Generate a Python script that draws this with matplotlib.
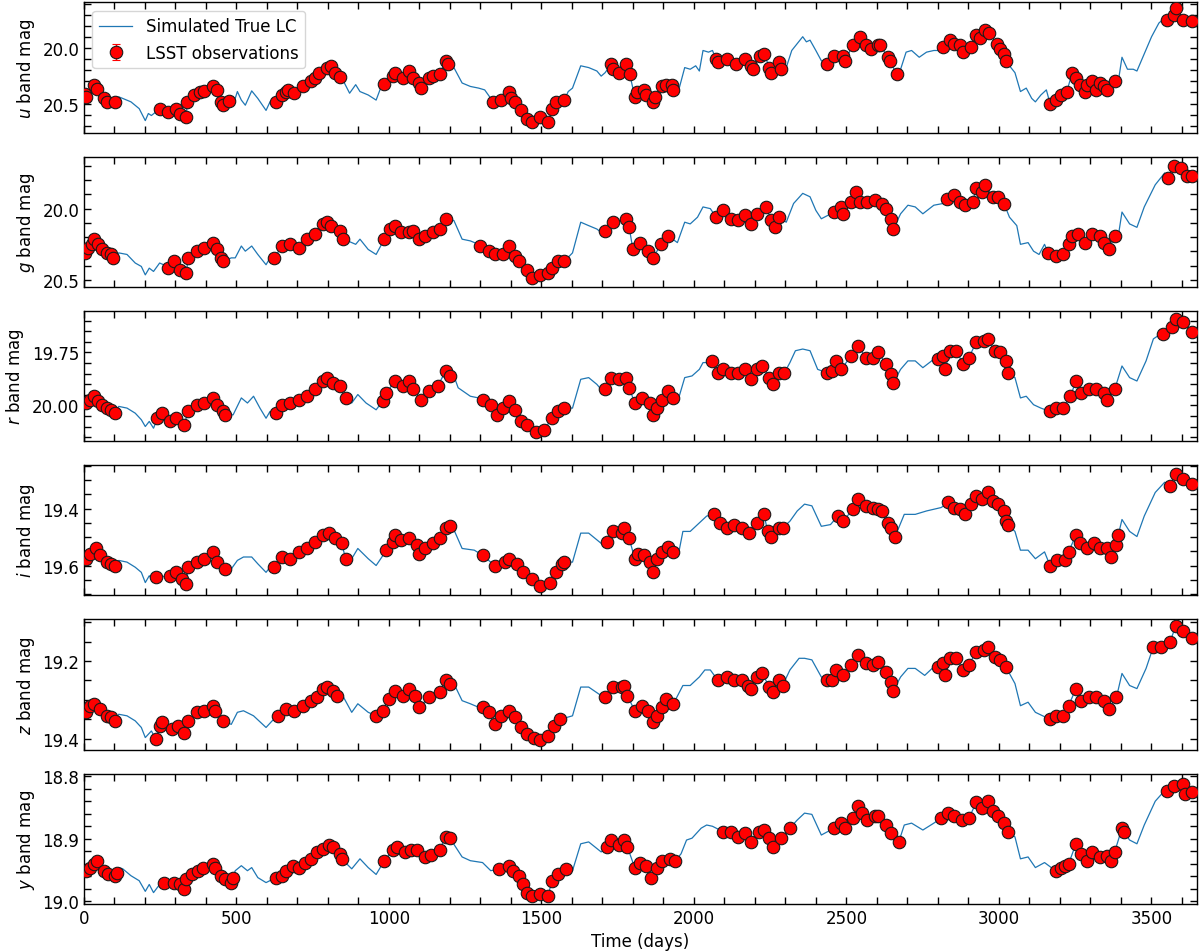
import matplotlib
matplotlib.use("Agg")
import matplotlib.pyplot as plt
import numpy as np
from matplotlib.ticker import MultipleLocator, AutoMinorLocator

# ---------------- data ----------------
bands = ["u", "g", "r", "i", "z", "y"]

# visible "true" light-curve knots between observing seasons (time, mag)
lc_u = [(114,20.44),(127,20.454),(154,20.485),(181,20.546),(201,20.654),(211,20.59),(221,20.608),(235,20.577),
        (489,20.515),(503,20.392),(516,20.469),(529,20.515),(550,20.386),(570,20.454),(597,20.562),(610,20.485),
        (851,20.299),(871,20.407),(891,20.330),(905,20.392),(932,20.423),(958,20.469),(979,20.315),
        (1213,20.176),(1240,20.315),(1267,20.346),(1294,20.361),(1314,20.377),(1334,20.454),
        (1588,20.392),(1602,20.361),(1629,20.160),(1655,20.176),(1682,20.207),(1696,20.253),(1709,20.222),
        (1952,20.361),(1970,20.176),(1988,20.191),(2006,20.160),(2018,20.207),(2030,20.022),(2048,20.037),(2061,20.022),
        (2303,20.176),(2321,20.022),(2339,19.960),(2357,19.898),(2369,19.944),(2381,19.929),(2400,20.022),(2418,20.114),
        (2678,20.191),(2696,20.037),(2714,20.022),(2739,20.083),(2763,20.037),(2787,20.022),(2811,20.022),
        (3035,20.160),(3053,20.222),(3071,20.392),(3090,20.361),(3108,20.454),(3120,20.485),(3138,20.423),(3156,20.377),
        (3392,20.299),(3404,20.083),(3422,20.191),(3441,20.191),(3453,20.207),(3477,20.052),(3501,19.898),(3525,19.775),
        (3544,19.728),(3650,19.75)]
obs_u = [(3,20.41),(7,20.438),(34,20.330),(44,20.367),(67,20.454),(74,20.485),(101,20.485),
         (248,20.546),(275,20.577),(302,20.552),(315,20.593),(335,20.623),(339,20.485),
         (362,20.423),(382,20.392),(395,20.386),(422,20.346),(436,20.377),(449,20.485),(456,20.515),(476,20.481),
         (630,20.485),(650,20.423),(664,20.392),(670,20.377),(690,20.407),(717,20.346),(744,20.299),(757,20.269),
         (771,20.222),(798,20.176),(811,20.160),(824,20.222),(838,20.262),
         (985,20.324),(1012,20.253),(1019,20.222),(1046,20.269),(1066,20.207),(1079,20.269),(1099,20.315),(1106,20.361),
         (1133,20.269),(1146,20.253),(1166,20.238),(1186,20.114),(1193,20.145),
         (1340,20.485),(1367,20.469),(1394,20.392),(1401,20.454),(1414,20.485),(1434,20.562),(1454,20.639),(1468,20.670),
         (1495,20.623),(1521,20.670),(1535,20.546),(1548,20.485),(1575,20.469),
         (1729,20.145),(1736,20.191),(1756,20.222),(1776,20.145),(1790,20.238),(1806,20.438),(1812,20.392),(1837,20.377),
         (1843,20.423),(1867,20.485),(1873,20.438),(1897,20.346),(1909,20.330),(1927,20.330),(1933,20.377),
         (2073,20.099),(2079,20.130),(2109,20.099),(2139,20.145),(2169,20.099),(2188,20.160),(2194,20.191),(2218,20.068),
         (2230,20.052),(2248,20.176),(2254,20.222),(2280,20.130),(2285,20.191),
         (2436,20.145),(2460,20.068),(2490,20.068),(2496,20.114),(2521,19.975),(2545,19.898),(2563,19.975),(2581,20.006),
         (2605,19.975),(2611,19.975),(2636,20.083),(2642,20.114),(2666,20.238),
         (2817,19.991),(2841,19.929),(2854,19.960),(2872,19.975),(2884,20.037),(2908,19.991),(2926,19.883),(2938,19.914),
         (2956,19.836),(2969,19.867),(2993,19.960),(3005,20.006),(3017,20.052),(3023,20.114),
         (3168,20.500),(3186,20.469),(3205,20.423),(3223,20.392),(3241,20.222),(3253,20.269),(3265,20.330),(3283,20.392),
         (3289,20.330),(3307,20.299),(3320,20.377),(3332,20.315),(3344,20.346),(3356,20.377),(3380,20.299),
         (3550,19.744),(3574,19.698),(3580,19.636),(3604,19.744),(3634,19.759)]

lc_g = [(114,20.310),(141,20.321),(168,20.381),(188,20.405),(201,20.464),(214,20.417),(228,20.440),(248,20.381),(261,20.393),
        (483,20.345),(496,20.345),(516,20.262),(529,20.298),(550,20.262),(570,20.321),(597,20.393),(610,20.345),
        (865,20.226),(891,20.250),(905,20.214),(932,20.286),(958,20.321),(979,20.238),
        (1213,20.083),(1240,20.214),(1267,20.226),(1294,20.250),
        (1602,20.310),(1629,20.095),(1655,20.119),(1682,20.143),(1696,20.167),
        (1946,20.238),(1970,20.095),(1988,20.107),(2012,20.060),(2030,19.988),(2054,20.000),
        (2303,20.095),(2327,19.964),(2357,19.893),(2381,19.917),(2400,20.012),(2418,20.071),
        (2678,20.036),(2702,19.976),(2726,19.988),(2751,20.036),(2787,19.976),(2817,19.964),
        (3035,20.060),(3059,20.119),(3071,20.250),(3096,20.238),(3114,20.298),(3132,20.321),(3150,20.250),
        (3392,20.190),(3404,20.024),(3429,20.107),(3453,20.131),(3477,19.988),(3513,19.833),(3544,19.750),(3650,19.78)]
obs_g = [(3,20.310),(13,20.274),(27,20.250),(34,20.214),(47,20.250),(60,20.286),(74,20.310),(87,20.321),(94,20.345),
         (275,20.417),(295,20.369),(315,20.429),(335,20.452),(342,20.345),(369,20.298),(395,20.274),(422,20.238),
         (436,20.286),(449,20.345),(456,20.369),
         (623,20.345),(650,20.262),(677,20.250),(704,20.274),(731,20.214),(757,20.179),(784,20.107),(798,20.095),
         (811,20.119),(838,20.155),(851,20.214),
         (985,20.214),(1005,20.143),(1019,20.119),(1039,20.167),(1066,20.167),(1079,20.155),(1099,20.214),(1119,20.190),
         (1146,20.167),(1166,20.143),(1186,20.071),
         (1300,20.262),(1327,20.298),(1347,20.321),(1374,20.321),(1394,20.262),(1414,20.333),(1428,20.369),(1454,20.429),
         (1468,20.488),(1495,20.464),(1521,20.452),(1535,20.417),(1555,20.369),(1575,20.369),
         (1709,20.155),(1736,20.095),(1776,20.071),(1788,20.131),(1800,20.286),(1824,20.238),(1849,20.298),(1867,20.345),
         (1891,20.250),(1915,20.190),
         (2073,20.060),(2097,20.012),(2121,20.071),(2145,20.083),(2169,20.048),(2188,20.107),(2206,20.036),(2236,19.988),
         (2254,20.083),(2266,20.131),(2278,20.060),
         (2460,20.024),(2484,19.988),(2490,20.036),(2515,19.952),(2533,19.881),(2545,19.952),(2569,19.952),(2593,19.940),
         (2617,19.964),(2630,20.000),(2648,20.071),(2654,20.143),
         (2829,19.929),(2854,19.905),(2872,19.952),(2890,19.976),(2914,19.952),(2926,19.857),(2944,19.881),(2956,19.833),
         (2981,19.917),(2999,19.917),(3017,19.964),
         (3162,20.310),(3186,20.333),(3211,20.321),(3229,20.250),(3241,20.190),(3259,20.179),(3283,20.238),(3307,20.179),
         (3332,20.190),(3344,20.238),(3362,20.286),(3380,20.190),
         (3556,19.786),(3574,19.702),(3598,19.714),(3616,19.774),(3634,19.774)]

lc_r = [(114,20.005),(141,20.013),(168,20.037),(188,20.068),(201,20.100),(214,20.076),(228,20.108),
        (489,20.045),(516,19.965),(536,19.989),(556,19.957),(577,20.013),(597,20.061),(610,20.029),
        (878,19.989),(898,19.949),(925,19.989),(958,20.021),
        (1213,19.861),(1227,19.917),(1267,19.957),(1294,19.965),
        (1602,20.013),(1629,19.877),(1655,19.869),(1682,19.901),(1696,19.925),
        (1952,19.957),(1970,19.869),(1994,19.861),(2018,19.830),(2030,19.798),(2054,19.798),
        (2315,19.798),(2333,19.742),(2357,19.734),(2381,19.742),(2406,19.830),
        (2678,19.830),(2702,19.790),(2726,19.790),(2751,19.822),(2787,19.782),
        (3053,19.869),(3071,19.965),(3090,19.957),(3114,19.997),(3138,20.013),
        (3404,19.814),(3429,19.869),(3453,19.885),(3483,19.790),(3507,19.686),(3532,19.662),(3650,19.66)]
obs_r = [(7,19.989),(20,19.973),(34,19.957),(47,19.981),(60,19.997),(74,20.013),(87,20.021),(101,20.037),
         (241,20.061),(255,20.037),(282,20.076),(302,20.061),(328,20.092),(342,20.029),(369,19.997),(395,19.989),
         (422,19.965),(436,19.997),(456,20.029),(462,20.045),
         (630,20.037),(650,19.997),(677,19.989),(704,19.973),(731,19.957),(757,19.925),(784,19.885),(798,19.869),
         (818,19.893),(838,19.909),(858,19.965),
         (979,19.981),(992,19.941),(1019,19.885),(1046,19.909),(1066,19.885),(1079,19.925),(1106,19.973),(1133,19.933),
         (1160,19.909),(1186,19.838),(1200,19.861),
         (1307,19.973),(1334,19.997),(1354,20.045),(1374,20.013),(1394,19.981),(1414,20.021),(1434,20.076),(1454,20.092),
         (1481,20.124),(1508,20.116),(1535,20.061),(1555,20.029),(1575,20.013),
         (1709,19.925),(1729,19.869),(1756,19.877),(1776,19.869),(1788,19.917),(1806,19.989),(1830,19.965),(1855,19.989),
         (1867,20.045),(1879,20.013),(1897,19.973),(1915,19.933),(1933,19.965),
         (2061,19.790),(2079,19.846),(2097,19.830),(2121,19.846),(2145,19.846),(2169,19.830),(2188,19.877),(2206,19.830),
         (2224,19.814),(2248,19.869),(2260,19.901),(2278,19.846),(2297,19.846),
         (2436,19.846),(2454,19.838),(2466,19.790),(2484,19.830),(2515,19.766),(2539,19.718),(2563,19.774),(2587,19.774),
         (2605,19.750),(2630,19.806),(2648,19.854),(2654,19.893),
         (2799,19.782),(2817,19.766),(2823,19.830),(2841,19.742),(2860,19.742),(2884,19.806),(2902,19.774),(2926,19.702),
         (2950,19.694),(2963,19.686),(2987,19.742),(3005,19.750),(3023,19.790),(3029,19.846),
         (3168,20.029),(3186,20.013),(3211,20.013),(3235,19.957),(3253,19.885),(3271,19.941),(3295,19.925),(3320,19.925),
         (3344,19.941),(3356,19.973),(3380,19.925),
         (3538,19.662),(3568,19.631),(3580,19.591),(3604,19.607),(3634,19.654)]

lc_i = [(114,19.582),(141,19.588),(168,19.606),(188,19.624),(201,19.660),(214,19.636),(228,19.654),
        (483,19.612),(503,19.582),(523,19.570),(550,19.570),(570,19.594),(597,19.624),(610,19.606),
        (878,19.576),(898,19.540),(932,19.576),(958,19.600),
        (1213,19.474),(1240,19.540),(1280,19.546),
        (1602,19.588),(1629,19.486),(1655,19.486),(1696,19.522),
        (1952,19.546),(1964,19.480),(1988,19.480),(2018,19.450),(2042,19.426),
        (2315,19.444),(2339,19.408),(2363,19.384),(2387,19.390),(2418,19.462),(2448,19.456),
        (2690,19.420),(2726,19.420),(2763,19.408),(2811,19.396),
        (3053,19.480),(3071,19.546),(3096,19.546),(3120,19.576),(3150,19.552),
        (3404,19.438),(3429,19.480),(3453,19.498),(3477,19.426),(3513,19.343),(3544,19.307),(3650,19.31)]
obs_i = [(7,19.576),(20,19.558),(40,19.540),(54,19.564),(74,19.588),(87,19.594),(101,19.600),
         (235,19.642),(282,19.636),(302,19.624),(322,19.648),(335,19.666),(342,19.606),(369,19.588),(395,19.576),
         (422,19.552),(436,19.588),(462,19.612),
         (623,19.606),(650,19.570),(677,19.576),(704,19.552),(731,19.540),(757,19.516),(784,19.492),(804,19.486),
         (824,19.504),(845,19.522),(858,19.576),
         (992,19.546),(1012,19.516),(1019,19.492),(1039,19.510),(1066,19.504),(1093,19.528),(1099,19.558),(1119,19.540),
         (1146,19.522),(1166,19.504),(1186,19.468),(1200,19.462),
         (1307,19.564),(1347,19.600),(1381,19.588),(1394,19.576),(1421,19.594),(1441,19.624),(1468,19.648),(1495,19.672),
         (1528,19.660),(1548,19.624),(1568,19.594),(1575,19.588),
         (1716,19.516),(1736,19.480),(1763,19.486),(1770,19.468),(1788,19.504),(1806,19.576),(1818,19.558),(1837,19.564),
         (1855,19.588),(1867,19.624),(1879,19.576),(1897,19.552),(1915,19.534),(1933,19.552),
         (2067,19.420),(2085,19.450),(2109,19.468),(2133,19.456),(2157,19.468),(2182,19.486),(2206,19.450),(2230,19.420),
         (2242,19.480),(2254,19.498),(2278,19.468),(2291,19.468),
         (2472,19.426),(2490,19.444),(2521,19.402),(2539,19.366),(2563,19.390),(2587,19.396),(2605,19.402),(2617,19.408),
         (2636,19.450),(2648,19.468),(2660,19.498),
         (2835,19.378),(2854,19.396),(2872,19.402),(2890,19.420),(2908,19.384),(2926,19.355),(2944,19.366),(2963,19.343),
         (2981,19.372),(2999,19.384),(3017,19.408),(3023,19.444),(3029,19.456),
         (3168,19.600),(3192,19.582),(3217,19.582),(3229,19.552),(3253,19.492),(3265,19.522),(3289,19.540),(3313,19.522),
         (3332,19.540),(3356,19.540),(3368,19.570),(3386,19.528),(3392,19.492),
         (3562,19.319),(3580,19.277),(3604,19.295),(3634,19.313)]

lc_z = [(114,19.337),(141,19.341),(168,19.354),(188,19.371),(201,19.397),(221,19.380),
        (483,19.363),(503,19.332),(523,19.328),(556,19.341),(597,19.371),(617,19.354),
        (851,19.293),(878,19.332),(898,19.310),(932,19.332),
        (1213,19.258),(1240,19.302),(1267,19.310),(1294,19.319),
        (1602,19.341),(1629,19.267),(1655,19.267),(1696,19.289),
        (1964,19.263),(1988,19.263),(2018,19.241),(2036,19.223),(2054,19.223),
        (2315,19.223),(2345,19.193),(2363,19.193),(2387,19.197),(2418,19.241),
        (2678,19.241),(2702,19.219),(2726,19.219),(2757,19.237),(2787,19.215),
        (3053,19.258),(3071,19.315),(3096,19.306),(3120,19.332),(3144,19.341),
        (3404,19.232),(3429,19.263),(3453,19.271),(3483,19.219),(3650,19.14)]
obs_z = [(7,19.332),(20,19.315),(34,19.310),(54,19.323),(74,19.341),(87,19.345),(101,19.354),
         (235,19.400),(248,19.367),(255,19.358),(288,19.376),(308,19.367),(328,19.384),(342,19.354),(369,19.332),
         (395,19.328),(422,19.315),(429,19.328),(456,19.354),
         (637,19.341),(664,19.323),(690,19.328),(717,19.315),(744,19.302),(764,19.293),(784,19.271),(798,19.267),
         (818,19.276),(831,19.289),
         (958,19.341),(979,19.328),(999,19.297),(1019,19.276),(1046,19.289),(1066,19.271),(1086,19.289),(1099,19.319),
         (1133,19.293),(1166,19.280),(1186,19.250),(1200,19.258),
         (1307,19.319),(1327,19.332),(1347,19.363),(1367,19.341),(1394,19.328),(1414,19.345),(1434,19.371),(1454,19.389),
         (1475,19.397),(1495,19.402),(1521,19.393),(1542,19.367),(1562,19.350),
         (1709,19.293),(1736,19.267),(1763,19.267),(1770,19.263),(1782,19.289),(1806,19.328),(1830,19.315),(1849,19.328),
         (1867,19.358),(1879,19.341),(1897,19.319),(1909,19.297),(1933,19.310),
         (2079,19.250),(2109,19.241),(2133,19.250),(2157,19.250),(2176,19.263),(2188,19.271),(2206,19.241),(2224,19.232),
         (2248,19.267),(2260,19.280),(2278,19.250),(2291,19.263),
         (2436,19.250),(2454,19.250),(2466,19.223),(2490,19.237),(2515,19.210),(2539,19.184),(2563,19.206),(2587,19.210),
         (2605,19.202),(2630,19.228),(2648,19.254),(2654,19.276),
         (2799,19.215),(2817,19.206),(2823,19.237),(2841,19.193),(2860,19.193),(2884,19.223),(2902,19.210),(2926,19.176),
         (2950,19.171),(2963,19.163),(2987,19.189),(3005,19.197),(3023,19.215),
         (3168,19.350),(3186,19.341),(3211,19.341),(3229,19.315),(3253,19.271),(3271,19.302),(3295,19.293),(3320,19.293),
         (3344,19.302),(3362,19.323),(3386,19.293),
         (3507,19.163),(3532,19.163),(3562,19.150),(3580,19.110),(3604,19.123),(3634,19.141)]

lc_y = [(114,18.946),(127,18.948),(154,18.959),(181,18.967),(201,18.984),(214,18.973),(228,18.986),(248,18.973),
        (496,18.951),(516,18.943),(536,18.951),(550,18.946),(570,18.962),(597,18.970),
        (878,18.948),(905,18.932),(932,18.946),(958,18.957),
        (1240,18.929),(1267,18.935),(1307,18.938),(1334,18.951),
        (1602,18.951),(1629,18.908),(1655,18.905),(1696,18.921),
        (1958,18.924),(1976,18.902),(1994,18.899),(2024,18.883),(2042,18.878),(2061,18.880),
        (2339,18.870),(2363,18.859),(2387,18.861),(2418,18.894),
        (2690,18.878),(2714,18.875),(2751,18.886),(2787,18.875),
        (3053,18.897),(3071,18.932),(3096,18.929),(3120,18.946),(3150,18.938),
        (3429,18.902),(3453,18.908),(3477,18.878),(3513,18.840),(3544,18.823),(3650,18.826)]
obs_y = [(7,18.951),(20,18.946),(34,18.940),(44,18.935),(67,18.951),(80,18.957),(101,18.959),(107,18.954),
         (261,18.970),(295,18.970),(315,18.973),(328,18.981),(335,18.965),(355,18.957),(375,18.951),(389,18.946),
         (422,18.940),(429,18.946),(449,18.959),(462,18.965),(483,18.970),(489,18.962),
         (630,18.962),(650,18.959),(664,18.951),(684,18.943),(704,18.946),(724,18.938),(744,18.932),(764,18.921),
         (784,18.916),(804,18.910),(818,18.913),(838,18.924),(845,18.932),
         (985,18.935),(1012,18.918),(1025,18.913),(1052,18.921),(1072,18.918),(1093,18.918),(1119,18.929),(1139,18.926),
         (1166,18.918),(1186,18.897),(1200,18.899),
         (1361,18.948),(1394,18.943),(1407,18.951),(1428,18.959),(1441,18.973),(1454,18.986),(1468,18.992),(1495,18.989),
         (1521,18.992),(1535,18.967),(1555,18.957),(1582,18.948),
         (1716,18.913),(1729,18.902),(1756,18.910),(1770,18.902),(1782,18.913),(1806,18.946),(1824,18.938),(1843,18.943),
         (1861,18.962),(1879,18.946),(1897,18.935),(1921,18.932),(1939,18.935),
         (2097,18.889),(2121,18.889),(2145,18.897),(2169,18.891),(2188,18.905),(2212,18.889),(2230,18.886),(2248,18.899),
         (2260,18.913),(2285,18.899),(2315,18.883),
         (2460,18.883),(2484,18.875),(2496,18.883),(2521,18.867),(2539,18.848),(2551,18.859),(2569,18.870),(2593,18.864),
         (2605,18.864),(2630,18.878),(2648,18.891),(2672,18.905),
         (2811,18.867),(2835,18.859),(2854,18.864),(2878,18.870),(2902,18.867),(2926,18.842),(2944,18.851),(2963,18.840),
         (2981,18.856),(2999,18.864),(3017,18.875),(3029,18.889),
         (3186,18.951),(3205,18.946),(3217,18.943),(3229,18.940),(3253,18.908),(3271,18.924),(3289,18.935),(3307,18.921),
         (3332,18.929),(3356,18.927),(3368,18.935),(3380,18.921),(3404,18.883),(3410,18.889),
         (3550,18.823),(3574,18.815),(3604,18.812),(3610,18.829),(3634,18.826)]

lc_data = {"u": lc_u, "g": lc_g, "r": lc_r, "i": lc_i, "z": lc_z, "y": lc_y}
obs_data = {"u": obs_u, "g": obs_g, "r": obs_r, "i": obs_i, "z": obs_z, "y": obs_y}
obs_err = {"u": 0.01, "g": 0.008, "r": 0.005, "i": 0.004, "z": 0.003, "y": 0.002}

# axis limits (bottom, top) -- magnitudes, inverted
ylims = {"u": (20.762, 19.589), "g": (20.548, 19.636), "r": (20.169, 19.554),
         "i": (19.705, 19.247), "z": (19.428, 19.093), "y": (19.004, 18.796)}
ymajor = {"u": 0.5, "g": 0.5, "r": 0.25, "i": 0.2, "z": 0.2, "y": 0.1}
x_range = (0, 3650)

# ---------------- figure ----------------
fig, axes = plt.subplots(6, 1, figsize=(12, 9.53), dpi=100, sharex=True,
                         gridspec_kw=dict(hspace=0.185))
fig.subplots_adjust(left=0.07, right=0.9975, top=0.9964, bottom=0.0505)

for ax, b in zip(axes, bands):
    lc_t, lc_m = zip(*lc_data[b])
    ob_t, ob_m = zip(*obs_data[b])
    # true light curve passes beneath the observations
    t_all = np.concatenate([lc_t, ob_t])
    m_all = np.concatenate([lc_m, ob_m])
    order = np.argsort(t_all, kind="stable")
    ax.plot(t_all[order], m_all[order], color="#1f77b4", lw=0.9,
            label="Simulated True LC", zorder=1)
    ax.errorbar(ob_t, ob_m, yerr=obs_err[b], fmt="o", color="red",
                markerfacecolor="red", markeredgecolor="#1a1a1a", markeredgewidth=0.8,
                markersize=9, ecolor="red", elinewidth=1, capsize=3,
                label="LSST observations", zorder=3)
    ax.set_xlim(*x_range)
    ax.set_ylim(*ylims[b])
    ax.yaxis.set_major_locator(MultipleLocator(ymajor[b]))
    ax.yaxis.set_minor_locator(AutoMinorLocator())
    ax.xaxis.set_major_locator(MultipleLocator(500))
    ax.xaxis.set_minor_locator(AutoMinorLocator())
    ax.tick_params(which="both", direction="in", top=True, right=True,
                   length=5, width=1, labelsize=12)
    ax.set_ylabel(r"$%s$ band mag" % b, fontsize=12)
    for s in ax.spines.values():
        s.set_linewidth(1)

axes[0].legend(loc="upper left", fontsize=12)
axes[-1].set_xlabel("Time (days)", fontsize=12)

fig.savefig("out.png", dpi=100)
